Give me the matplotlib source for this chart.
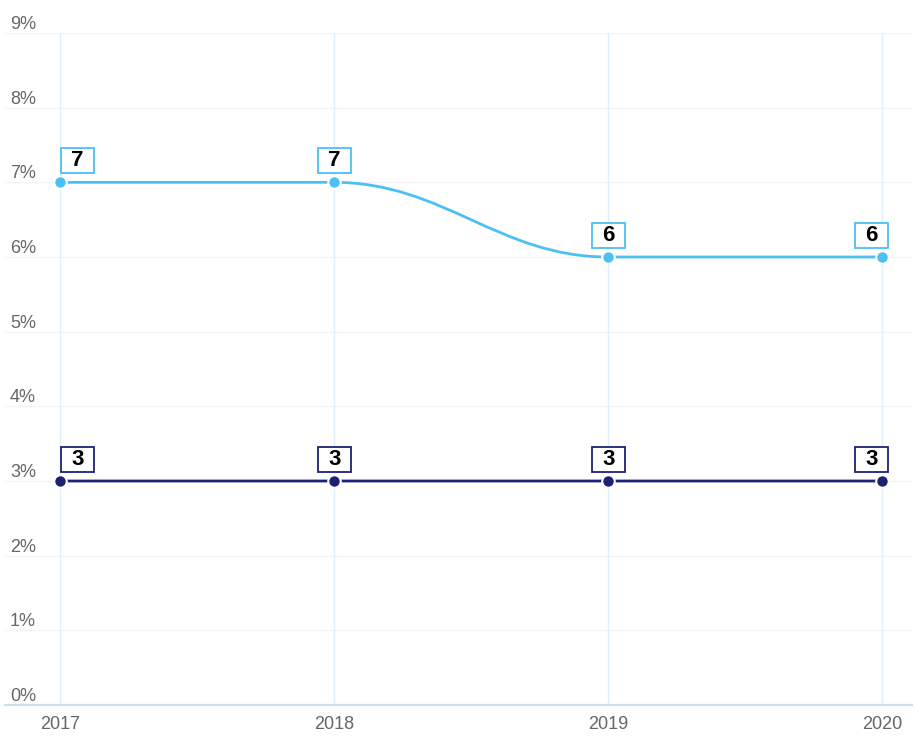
import matplotlib
matplotlib.use("Agg")
from matplotlib import pyplot as plt
from matplotlib import transforms as mtransforms
from matplotlib.path import Path
from matplotlib.patches import PathPatch, Rectangle

YEARS = [2017, 2018, 2019, 2020]
LIGHT_VALUES = [7, 7, 6, 6]
DARK_VALUES = [3, 3, 3, 3]
Y_TICKS = [0, 1, 2, 3, 4, 5, 6, 7, 8, 9]
Y_LABELS = ["{0}%".format(v) for v in Y_TICKS]

LIGHT = "#4cbff4"
DARK = "#1c2176"
GRAY = "#666666"

plt.rcParams['font.family'] = ['Liberation Sans', 'DejaVu Sans']

W, H = 916, 738


def spline_path(xs, ys):
    # highcharts-like spline, control points 40% along each segment
    verts = [(xs[0], ys[0])]
    codes = [Path.MOVETO]
    for i in range(len(xs) - 1):
        dx = xs[i + 1] - xs[i]
        verts += [(xs[i] + 0.4 * dx, ys[i]), (xs[i + 1] - 0.4 * dx, ys[i + 1]), (xs[i + 1], ys[i + 1])]
        codes += [Path.CURVE4] * 3
    return Path(verts, codes)


def px_trans(ax, x, y):
    # pixel offsets relative to a data point
    return mtransforms.Affine2D() + mtransforms.ScaledTranslation(x, y, ax.transData)


def draw_series(ax, values, color, z):
    ax.add_patch(PathPatch(spline_path(YEARS, values), fill=False, edgecolor=color,
                           linewidth=2.0, zorder=z, capstyle='round'))
    ax.plot(YEARS, values, linestyle='none', marker='o', markersize=9,
            markerfacecolor=color, markeredgecolor='white', markeredgewidth=1.5, zorder=z + 1)
    n = len(YEARS)
    for i, (x, v) in enumerate(zip(YEARS, values)):
        if i == 0:
            left = 1
        elif i == n - 1:
            left = -27
        else:
            left = -16
        t = px_trans(ax, x, v)
        ax.add_patch(Rectangle((left, 9), 33, 25, transform=t, facecolor='white',
                               edgecolor=color, linewidth=1.3, zorder=z + 2, clip_on=False))
        ax.text(left + 16.5, 21.5, "{0:d}".format(round(v)), transform=t, ha='center', va='center',
                fontsize=16, fontweight='bold', color='black', zorder=z + 3, clip_on=False)


fig = plt.figure(figsize=(W / 100, H / 100), dpi=100)
ax = fig.add_axes([5 / W, (H - 705) / H, 907 / W, 672 / H])
ppu = (882 - 60) / 3.0
ax.set_xlim(2017 - 55 / ppu, 2017 + (907 - 55) / ppu)
ax.set_ylim(0, 9)

for y in Y_TICKS[1:]:
    ax.axhline(y, color="#f4f4f4", linewidth=1, zorder=0)
for x in YEARS:
    ax.axvline(x, color="#dcf1fb", linewidth=1, zorder=0)

for s in ['top', 'right', 'left']:
    ax.spines[s].set_visible(False)
ax.spines['bottom'].set_color("#cfdfe8")
ax.spines['bottom'].set_linewidth(1.6)

ax.set_yticks([])
ax.set_xticks(YEARS)
ax.set_xticklabels([str(y) for y in YEARS], fontsize=13, color=GRAY)
ax.tick_params(axis='x', length=0, pad=8)

ylab_trans = ax.get_yaxis_transform()
for v, lab in zip(Y_TICKS, Y_LABELS):
    ax.annotate(lab, xy=(0, v), xycoords=ylab_trans, xytext=(5, 4), textcoords='offset pixels',
                ha='left', va='baseline', fontsize=13, color=GRAY)

draw_series(ax, DARK_VALUES, DARK, 3)
draw_series(ax, LIGHT_VALUES, LIGHT, 7)

fig.savefig("out.png", dpi=100)
